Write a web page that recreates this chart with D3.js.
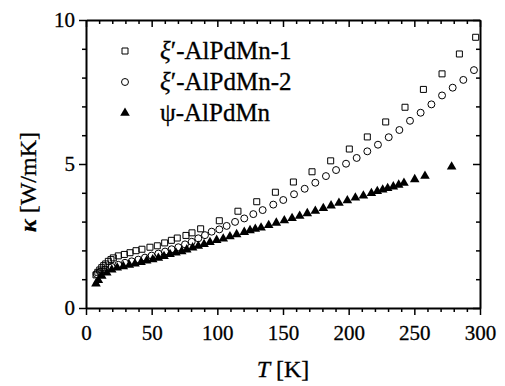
<!DOCTYPE html>
<html>
<head>
<meta charset="utf-8">
<script src="https://cdn.jsdelivr.net/npm/d3@7"></script>
<style>
  body { margin: 0; background: #fff; }
  svg text { font-family: "Liberation Serif", serif; fill: #000; stroke: #000; stroke-width: 0.3px; }
  .axis path, .axis line { stroke: #000; }
</style>
</head>
<body>
<svg id="chart" width="505" height="386"></svg>
<script>
// xi'-AlPdMn-1 (open squares)
const t1 = [7.6, 9, 10.5, 12, 13.5, 15, 17, 19, 20.8, 24.6, 29.2, 33.5, 38.1, 42.6, 48.7, 54.3, 59.9, 65, 69.5, 76.1, 80.7, 87.3,
  101.5, 115.7, 130, 144.2, 157.9, 172.1, 186.3, 200.5, 214.2, 228.2, 242.9, 256.9, 271.1, 284.3, 296.7];
const k1 = [1.15, 1.24, 1.32, 1.4, 1.47, 1.53, 1.62, 1.68, 1.74, 1.81, 1.86, 1.92, 1.99, 2.04, 2.11, 2.16, 2.26, 2.35, 2.43, 2.52, 2.61, 2.75,
  3.03, 3.36, 3.69, 4.02, 4.375, 4.73, 5.11, 5.52, 5.94, 6.46, 6.97, 7.59, 8.13, 8.82, 9.4];

// xi'-AlPdMn-2 (open circles)
const t2 = [8.1, 10.7, 14.5, 19.5, 24.6, 29.7, 34.8, 39.8, 44.9, 50, 55.1, 60.2, 65.2, 70.3, 75.4, 80.5, 85.5, 90.6, 95.7,
  101.5, 107.1, 113.5, 120.5, 127.4, 134.5, 142.6, 150.2, 158.4, 166.5, 174.6, 182.7, 190.4, 198, 206.1, 214.2, 222.3,
  230.5, 238.6, 246.7, 254.8, 263, 271.1, 279.2, 287.3, 295.4];
const k2 = [1.18, 1.26, 1.34, 1.43, 1.5, 1.57, 1.62, 1.68, 1.75, 1.82, 1.89, 1.96, 2.04, 2.11, 2.21, 2.3, 2.42, 2.53, 2.65,
  2.73, 2.85, 2.99, 3.11, 3.26, 3.4, 3.59, 3.75, 3.95, 4.14, 4.35, 4.58, 4.79, 5.01, 5.21, 5.44, 5.67,
  5.93, 6.18, 6.5, 6.78, 7.07, 7.38, 7.65, 7.92, 8.26];

// psi-AlPdMn (filled triangles)
const t3 = [7.6, 9.4, 12, 15.8, 19.6, 23.8, 28.4, 33, 37.3, 41.9, 46.2, 50.8, 55.1, 59.4, 64, 68.5, 72.9, 76.7, 81.2, 85.5,
  89.9, 94.4, 99.5, 104.5, 109.6, 114.7, 120.5, 124.9, 128.9, 133.3, 139.1, 144.9, 151, 156.9, 162.7, 168.5, 174.6,
  180.7, 186.6, 192.6, 199, 205.1, 211.2, 217.3, 221.8, 225.9, 229.7, 234, 238.1, 242.1, 250.3, 258.1, 278.4];
const k3 = [0.88, 1.0, 1.15, 1.26, 1.36, 1.43, 1.48, 1.53, 1.57, 1.62, 1.68, 1.72, 1.77, 1.83, 1.9, 1.95, 2.0, 2.06, 2.13, 2.19,
  2.25, 2.32, 2.39, 2.44, 2.52, 2.59, 2.67, 2.73, 2.78, 2.82, 2.91, 2.99, 3.07, 3.15, 3.23, 3.32, 3.4,
  3.5, 3.59, 3.68, 3.77, 3.86, 3.93, 4.02, 4.09, 4.14, 4.19, 4.25, 4.31, 4.375, 4.5, 4.62, 4.94];

const xTicks = [0, 50, 100, 150, 200, 250, 300];
const yTicks = [0, 5, 10];
const legendNames = ["\u2032-AlPdMn-1", "\u2032-AlPdMn-2", "-AlPdMn"];

const svg = d3.select("#chart");
const mLeft = 86, mRight = 480, mTop = 20, mBottom = 308;
const serif = "Liberation Serif";

const x = d3.scaleLinear().domain([0, 300]).range([mLeft, mRight]);
const y = d3.scaleLinear().domain([0, 10]).range([mBottom, mTop]);

const minorX = d3.range(0, 301, 10).filter(d => d % 50 != 0);
const minorY = d3.range(0, 11, 1).filter(d => d % 5 != 0);

// bottom axis: ticks pointing down (outside)
svg.append("g").attr("class", "axis").attr("transform", "translate(0," + mBottom + ")")
  .call(d3.axisBottom(x).tickValues(xTicks).tickSize(7).tickSizeOuter(0).tickPadding(10))
  .call(g => g.attr("font-family", serif).attr("font-size", 21));
svg.append("g").attr("class", "axis").attr("transform", "translate(0," + mBottom + ")")
  .call(d3.axisBottom(x).tickValues(minorX).tickSize(4).tickFormat(""))
  .call(g => g.select(".domain").remove());

// top axis: ticks pointing down (inside)
svg.append("g").attr("class", "axis").attr("transform", "translate(0," + mTop + ")")
  .call(d3.axisBottom(x).tickValues(xTicks).tickSize(7).tickSizeOuter(0).tickFormat(""));
svg.append("g").attr("class", "axis").attr("transform", "translate(0," + mTop + ")")
  .call(d3.axisBottom(x).tickValues(minorX).tickSize(4).tickFormat(""))
  .call(g => g.select(".domain").remove());

// left axis: ticks pointing left (outside)
svg.append("g").attr("class", "axis").attr("transform", "translate(" + mLeft + ",0)")
  .call(d3.axisLeft(y).tickValues(yTicks).tickSize(7).tickSizeOuter(0).tickPadding(4))
  .call(g => g.attr("font-family", serif).attr("font-size", 21));
svg.append("g").attr("class", "axis").attr("transform", "translate(" + mLeft + ",0)")
  .call(d3.axisLeft(y).tickValues(minorY).tickSize(4).tickFormat(""))
  .call(g => g.select(".domain").remove());

// right axis: ticks pointing left (inside)
svg.append("g").attr("class", "axis").attr("transform", "translate(" + mRight + ",0)")
  .call(d3.axisLeft(y).tickValues(yTicks).tickSize(7).tickSizeOuter(0).tickFormat(""));
svg.append("g").attr("class", "axis").attr("transform", "translate(" + mRight + ",0)")
  .call(d3.axisLeft(y).tickValues(minorY).tickSize(4).tickFormat(""))
  .call(g => g.select(".domain").remove());

svg.selectAll(".axis .domain").attr("stroke-width", 2);
svg.selectAll(".axis line").attr("stroke-width", 1.5);

// data
const sq = d3.symbol().type(d3.symbolSquare).size(36);
const ci = d3.symbol().type(d3.symbolCircle).size(38);
const tr = d3.symbol().type(d3.symbolTriangle).size(40);

svg.append("g").selectAll("path").data(t1.map((t, i) => [t, k1[i]])).join("path")
  .attr("d", sq).attr("transform", d => "translate(" + x(d[0]) + "," + y(d[1]) + ")")
  .attr("fill", "none").attr("stroke", "#000").attr("stroke-width", 1);
svg.append("g").selectAll("path").data(t2.map((t, i) => [t, k2[i]])).join("path")
  .attr("d", ci).attr("transform", d => "translate(" + x(d[0]) + "," + y(d[1]) + ")")
  .attr("fill", "none").attr("stroke", "#000").attr("stroke-width", 1);
svg.append("g").selectAll("path").data(t3.map((t, i) => [t, k3[i]])).join("path")
  .attr("d", tr).attr("transform", d => "translate(" + x(d[0]) + "," + (y(d[1]) + 1) + ")")
  .attr("fill", "#000");

// legend
const legend = svg.append("g");
const symbols = [sq, ci, tr];
const greek = ["\u03BE", "\u03BE", "\u03C8"];
legendNames.forEach(function(name, i) {
  const ly = 51 + i * 31;
  legend.append("path").attr("d", symbols[i])
    .attr("transform", "translate(125," + ly + ")")
    .attr("fill", i == 2 ? "#000" : "none").attr("stroke", "#000").attr("stroke-width", i == 2 ? 0 : 1);
  const txt = legend.append("text").attr("x", 160).attr("y", ly + 8)
    .attr("font-family", serif).attr("font-size", 25);
  txt.append("tspan").attr("font-style", i == 2 ? "normal" : "italic").text(greek[i]);
  txt.append("tspan").text(name);
});

// axis titles
const xt = svg.append("text").attr("x", 283).attr("y", 377).attr("text-anchor", "middle")
  .attr("font-family", serif).attr("font-size", 24);
xt.append("tspan").attr("font-style", "italic").text("T");
xt.append("tspan").text(" [K]");

const yt = svg.append("text").attr("transform", "translate(36,182) rotate(-90)")
  .attr("text-anchor", "middle").attr("font-family", serif).attr("font-size", 24);
yt.append("tspan").attr("font-style", "italic").attr("font-weight", "bold").text("\u03BA");
yt.append("tspan").text(" [W/mK]");
</script>
</body>
</html>
